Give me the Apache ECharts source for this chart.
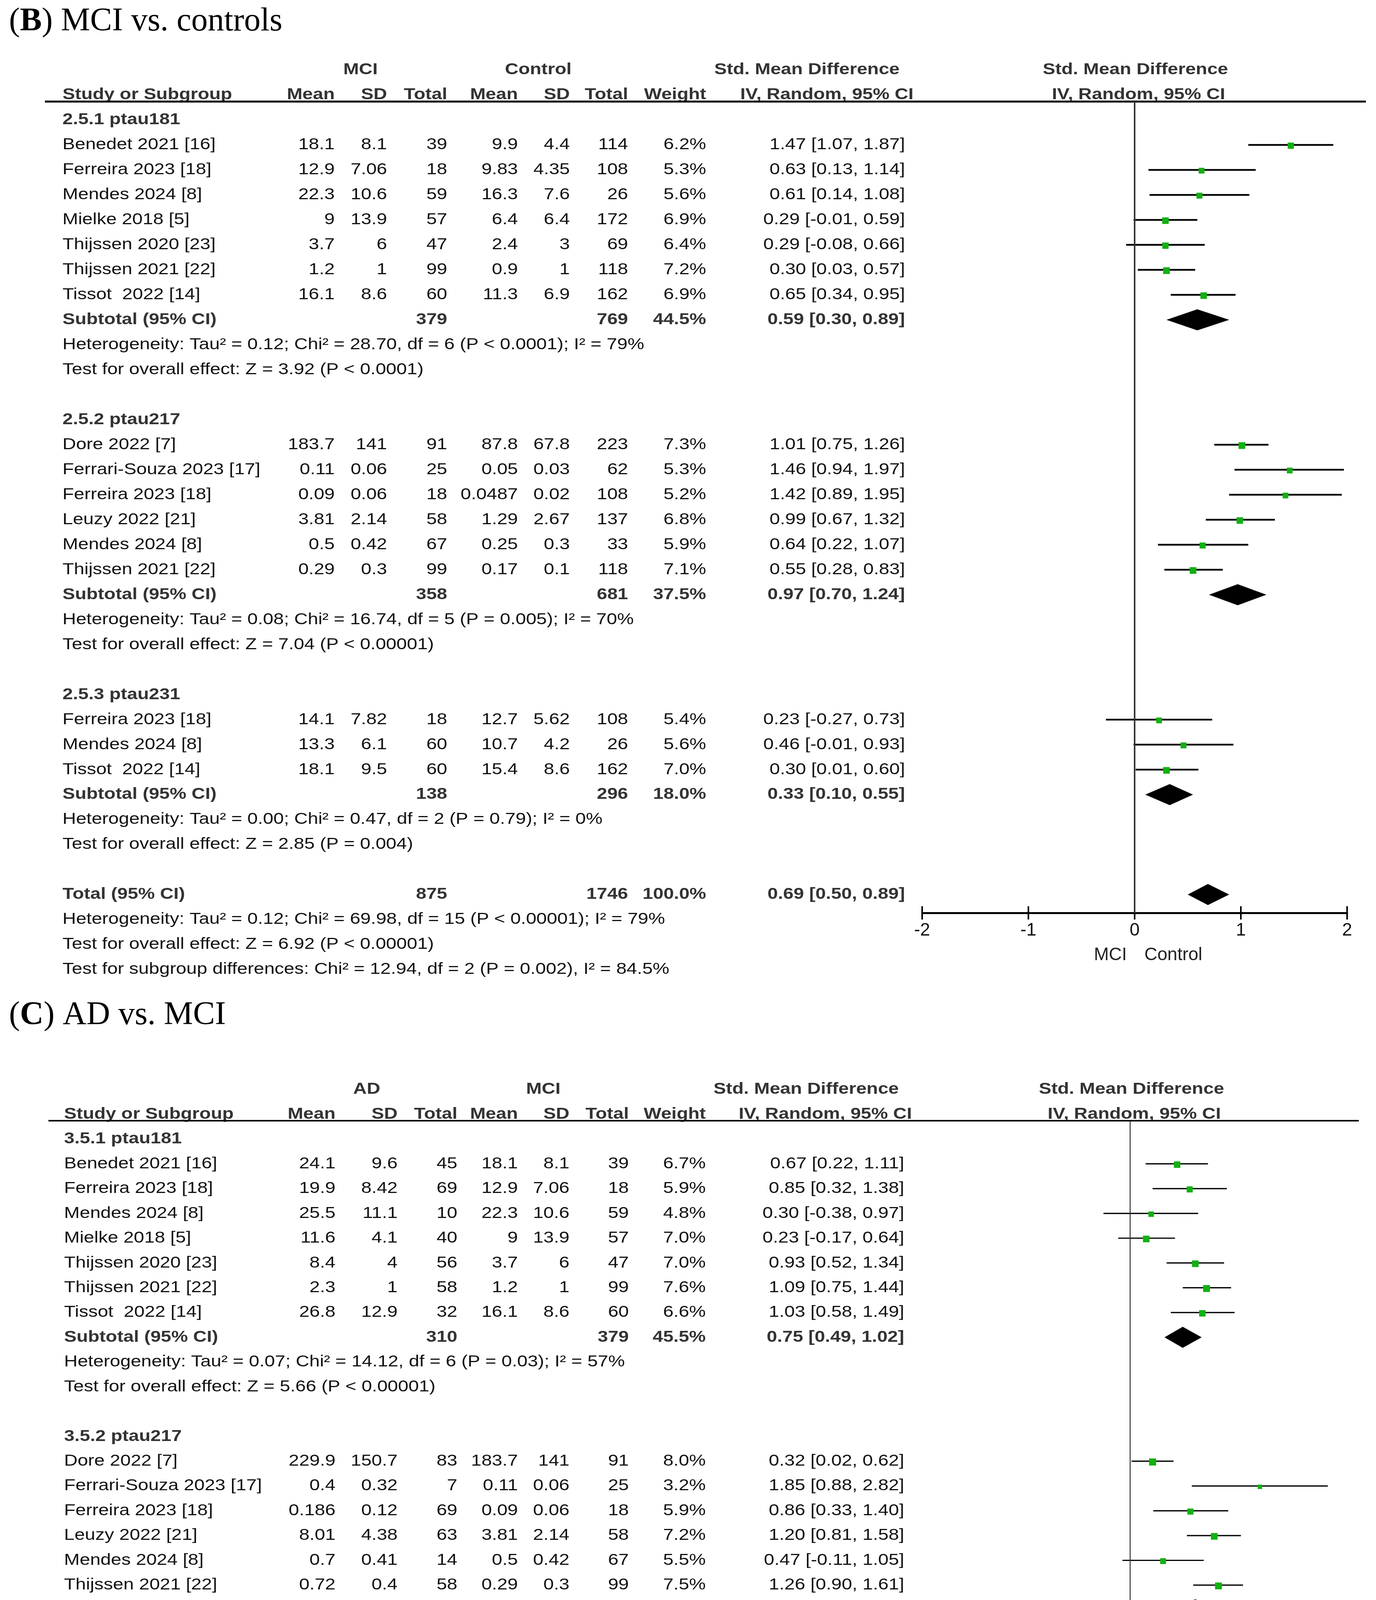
<!DOCTYPE html>
<html><head><meta charset="utf-8">
<script src="https://cdn.jsdelivr.net/npm/echarts@6/dist/echarts.min.js"></script>
<style>html,body{margin:0;padding:0;background:#fff}#c{width:3523px;height:5115px}</style>
</head><body><div id="c"></div>
<script>
// ================= DATA: panel B (MCI vs. controls) =================
const bGroups = ['2.5.1 ptau181', '2.5.2 ptau217', '2.5.3 ptau231'];
const bGroupSizes = [7, 6, 3];
const bStudy = ['Benedet 2021 [16]', 'Ferreira 2023 [18]', 'Mendes 2024 [8]', 'Mielke 2018 [5]', 'Thijssen 2020 [23]', 'Thijssen 2021 [22]', 'Tissot  2022 [14]',
  'Dore 2022 [7]', 'Ferrari-Souza 2023 [17]', 'Ferreira 2023 [18]', 'Leuzy 2022 [21]', 'Mendes 2024 [8]', 'Thijssen 2021 [22]',
  'Ferreira 2023 [18]', 'Mendes 2024 [8]', 'Tissot  2022 [14]'];
const bMean1 = [18.1, 12.9, 22.3, 9, 3.7, 1.2, 16.1, 183.7, 0.11, 0.09, 3.81, 0.5, 0.29, 14.1, 13.3, 18.1];
const bSD1 = [8.1, 7.06, 10.6, 13.9, 6, 1, 8.6, 141, 0.06, 0.06, 2.14, 0.42, 0.3, 7.82, 6.1, 9.5];
const bN1 = [39, 18, 59, 57, 47, 99, 60, 91, 25, 18, 58, 67, 99, 18, 60, 60];
const bMean2 = [9.9, 9.83, 16.3, 6.4, 2.4, 0.9, 11.3, 87.8, 0.05, 0.0487, 1.29, 0.25, 0.17, 12.7, 10.7, 15.4];
const bSD2 = [4.4, 4.35, 7.6, 6.4, 3, 1, 6.9, 67.8, 0.03, 0.02, 2.67, 0.3, 0.1, 5.62, 4.2, 8.6];
const bN2 = [114, 108, 26, 172, 69, 118, 162, 223, 62, 108, 137, 33, 118, 108, 26, 162];
const bWeight = [6.2, 5.3, 5.6, 6.9, 6.4, 7.2, 6.9, 7.3, 5.3, 5.2, 6.8, 5.9, 7.1, 5.4, 5.6, 7.0];
const bSMD = [1.47, 0.63, 0.61, 0.29, 0.29, 0.30, 0.65, 1.01, 1.46, 1.42, 0.99, 0.64, 0.55, 0.23, 0.46, 0.30];
const bLow = [1.07, 0.13, 0.14, -0.01, -0.08, 0.03, 0.34, 0.75, 0.94, 0.89, 0.67, 0.22, 0.28, -0.27, -0.01, 0.01];
const bHigh = [1.87, 1.14, 1.08, 0.59, 0.66, 0.57, 0.95, 1.26, 1.97, 1.95, 1.32, 1.07, 0.83, 0.73, 0.93, 0.60];
const bSubN1 = [379, 358, 138];
const bSubN2 = [769, 681, 296];
const bSubWeight = [44.5, 37.5, 18.0];
const bSubSMD = [0.59, 0.97, 0.33];
const bSubLow = [0.30, 0.70, 0.10];
const bSubHigh = [0.89, 1.24, 0.55];
const bHet = ['Heterogeneity: Tau\u00b2 = 0.12; Chi\u00b2 = 28.70, df = 6 (P < 0.0001); I\u00b2 = 79%',
  'Heterogeneity: Tau\u00b2 = 0.08; Chi\u00b2 = 16.74, df = 5 (P = 0.005); I\u00b2 = 70%',
  'Heterogeneity: Tau\u00b2 = 0.00; Chi\u00b2 = 0.47, df = 2 (P = 0.79); I\u00b2 = 0%'];
const bTest = ['Test for overall effect: Z = 3.92 (P < 0.0001)',
  'Test for overall effect: Z = 7.04 (P < 0.00001)',
  'Test for overall effect: Z = 2.85 (P = 0.004)'];
const bTotalN = [875, 1746];
const bTotalWeight = 100.0;
const bTotalCI = [0.69, 0.50, 0.89];
const bTotalNotes = ['Heterogeneity: Tau\u00b2 = 0.12; Chi\u00b2 = 69.98, df = 15 (P < 0.00001); I\u00b2 = 79%',
  'Test for overall effect: Z = 6.92 (P < 0.00001)',
  'Test for subgroup differences: Chi\u00b2 = 12.94, df = 2 (P = 0.002), I\u00b2 = 84.5%'];
const bArms = ['MCI', 'Control'];
const bTicks = [-2, -1, 0, 1, 2];

// ================= DATA: panel C (AD vs. MCI) =================
const cGroups = ['3.5.1 ptau181', '3.5.2 ptau217', '3.5.3 ptau231'];
const cGroupSizes = [7, 6, 3];
const cStudy = ['Benedet 2021 [16]', 'Ferreira 2023 [18]', 'Mendes 2024 [8]', 'Mielke 2018 [5]', 'Thijssen 2020 [23]', 'Thijssen 2021 [22]', 'Tissot  2022 [14]',
  'Dore 2022 [7]', 'Ferrari-Souza 2023 [17]', 'Ferreira 2023 [18]', 'Leuzy 2022 [21]', 'Mendes 2024 [8]', 'Thijssen 2021 [22]',
  'Ferreira 2023 [18]', 'Mendes 2024 [8]', 'Tissot  2022 [14]'];
const cMean1 = [24.1, 19.9, 25.5, 11.6, 8.4, 2.3, 26.8, 229.9, 0.4, 0.186, 8.01, 0.7, 0.72, 23.3, 12.2, 27.6];
const cSD1 = [9.6, 8.42, 11.1, 4.1, 4, 1, 12.9, 150.7, 0.32, 0.12, 4.38, 0.41, 0.4, 10.1, 5.2, 11];
const cN1 = [45, 69, 10, 40, 56, 58, 32, 83, 7, 69, 63, 14, 58, 69, 10, 32];
const cMean2 = [18.1, 12.9, 22.3, 9, 3.7, 1.2, 16.1, 183.7, 0.11, 0.09, 3.81, 0.5, 0.29, 14.1, 13.3, 18.1];
const cSD2 = [8.1, 7.06, 10.6, 13.9, 6, 1, 8.6, 141, 0.06, 0.06, 2.14, 0.42, 0.3, 7.82, 6.1, 9.5];
const cN2 = [39, 18, 59, 57, 47, 99, 60, 91, 25, 18, 58, 67, 99, 18, 60, 60];
const cWeight = [6.7, 5.9, 4.8, 7.0, 7.0, 7.6, 6.6, 8.0, 3.2, 5.9, 7.2, 5.5, 7.5, 5.9, 4.8, 6.6];
const cSMD = [0.67, 0.85, 0.30, 0.23, 0.93, 1.09, 1.03, 0.32, 1.85, 0.86, 1.20, 0.47, 1.26, 0.94, -0.18, 0.94];
const cLow = [0.22, 0.32, -0.38, -0.17, 0.52, 0.75, 0.58, 0.02, 0.88, 0.33, 0.81, -0.11, 0.90, 0.40, -0.85, 0.49];
const cHigh = [1.11, 1.38, 0.97, 0.64, 1.34, 1.44, 1.49, 0.62, 2.82, 1.40, 1.58, 1.05, 1.61, 1.48, 0.49, 1.39];
const cSubN1 = [310, 294, 111];
const cSubN2 = [379, 358, 138];
const cSubWeight = [45.5, 37.2, 17.3];
const cSubSMD = [0.75, 0.93, 0.60];
const cSubLow = [0.49, 0.51, -0.05];
const cSubHigh = [1.02, 1.36, 1.25];
const cHet = ['Heterogeneity: Tau\u00b2 = 0.07; Chi\u00b2 = 14.12, df = 6 (P = 0.03); I\u00b2 = 57%',
  'Heterogeneity: Tau\u00b2 = 0.21; Chi\u00b2 = 26.09, df = 5 (P < 0.0001); I\u00b2 = 81%',
  'Heterogeneity: Tau\u00b2 = 0.25; Chi\u00b2 = 8.49, df = 2 (P = 0.01); I\u00b2 = 76%'];
const cTest = ['Test for overall effect: Z = 5.66 (P < 0.00001)',
  'Test for overall effect: Z = 4.29 (P < 0.0001)',
  'Test for overall effect: Z = 1.82 (P = 0.07)'];
const cTotalN = [715, 875];
const cTotalWeight = 100.0;
const cTotalCI = [0.79, 0.58, 1.00];
const cTotalNotes = ['Heterogeneity: Tau\u00b2 = 0.12; Chi\u00b2 = 49.30, df = 15 (P < 0.0001); I\u00b2 = 70%',
  'Test for overall effect: Z = 7.36 (P < 0.00001)',
  'Test for subgroup differences: Chi\u00b2 = 0.81, df = 2 (P = 0.67), I\u00b2 = 0%'];
const cArms = ['AD', 'MCI'];
const cTicks = [-2, -1, 0, 1, 2];

// ================= assemble =================
const D_B = {groups: bGroups, sizes: bGroupSizes, study: bStudy, m1: bMean1, s1: bSD1, n1: bN1, m2: bMean2, s2: bSD2, n2: bN2,
  w: bWeight, smd: bSMD, lo: bLow, hi: bHigh, subN1: bSubN1, subN2: bSubN2, subW: bSubWeight, subSMD: bSubSMD, subLo: bSubLow, subHi: bSubHigh,
  het: bHet, test: bTest, totN: bTotalN, totW: bTotalWeight, totCI: bTotalCI, totNotes: bTotalNotes, arms: bArms, ticks: bTicks};
const D_C = {groups: cGroups, sizes: cGroupSizes, study: cStudy, m1: cMean1, s1: cSD1, n1: cN1, m2: cMean2, s2: cSD2, n2: cN2,
  w: cWeight, smd: cSMD, lo: cLow, hi: cHigh, subN1: cSubN1, subN2: cSubN2, subW: cSubWeight, subSMD: cSubSMD, subLo: cSubLow, subHi: cSubHigh,
  het: cHet, test: cTest, totN: cTotalN, totW: cTotalWeight, totCI: cTotalCI, totNotes: cTotalNotes, arms: cArms, ticks: cTicks};

// layout (pixels)
const L_B = {yMin: -0.7347, yMax: 31.734, grid: {left: 2361, right: 74, top: 260, height: 2077}, xMin: -2, xMax: 2,
  study: 160, m1: 857, s1: 991, n1: 1145, m2: 1326, s2: 1459, n2: 1608, w: 1808, ci: 2317,
  arm1: 923, arm2: 1378, smdHead: 2066, ivHead: 2117, rSmdHead: 2907, rIvHead: 2915,
  ruleL: 115, ruleR: 3497, ruleW: 5, axisLineW: 5, tickLen: 17, tickW: 4, labelMargin: 22, zeroW: 4, ciW: 4.5,
  nameRow: 33.42, nameL: 20, nameR: 25};
const L_C = {yMin: -0.7409, yMax: 31.778, grid: {left: 2355, right: 91, top: 2869, height: 2063}, xMin: -3, xMax: 3,
  study: 164, m1: 859, s1: 1018, n1: 1171, m2: 1326, s2: 1458, n2: 1610, w: 1807, ci: 2315,
  arm1: 939, arm2: 1391, smdHead: 2064, ivHead: 2113, rSmdHead: 2897, rIvHead: 2904,
  ruleL: 124, ruleR: 3479, ruleW: 4, axisLineW: 3.5, tickLen: 16, tickW: 3, labelMargin: 20, zeroW: 2.5, ciW: 3.2,
  nameRow: 33.53, nameL: 21, nameR: 22};

const FONT = '"Liberation Sans", Arial, Helvetica, sans-serif';
const SERIF = '"Liberation Serif", "Times New Roman", serif';
const FS = 41, SX = 1.17;
const GREEN = '#12b012';

const f2 = v => v.toFixed(2);
const ciText = (s, l, h) => f2(s) + ' [' + f2(l) + ', ' + f2(h) + ']';
const pct = v => v.toFixed(1) + '%';

function T(x, y, text, o) {
  o = o || {};
  return {type: 'text', x: x, y: y, scaleX: o.sx != null ? o.sx : SX,
    style: {text: text, fontSize: o.fs || FS, fontFamily: FONT, fontWeight: o.bold ? 'bold' : 'normal',
      fill: o.fill || (o.bold ? '#333' : '#111'), align: o.align || 'left', verticalAlign: 'middle'}};
}

function buildRows(D, L) {
  const rows = [{row: -2, kind: 'head1'}, {row: -1, kind: 'head2'}, {row: L.yMin, kind: 'rule'}];
  let r = 0, k = 0;
  D.groups.forEach((g, gi) => {
    rows.push({row: r++, kind: 'group', text: g});
    for (let j = 0; j < D.sizes[gi]; j++, k++) rows.push({row: r++, kind: 'study', i: k});
    rows.push({row: r++, kind: 'sub', gi: gi});
    rows.push({row: r++, kind: 'note', text: D.het[gi]});
    rows.push({row: r++, kind: 'note', text: D.test[gi]});
    r++;
  });
  rows.push({row: r++, kind: 'total'});
  D.totNotes.forEach(t => rows.push({row: r++, kind: 'note', text: t}));
  rows.push({row: L.nameRow, kind: 'axisname'});
  return rows;
}

function rowElems(r, y, D, L, api) {
  const B = {bold: true};
  const BR = {bold: true, align: 'right'};
  const BC = {bold: true, align: 'center'};
  const R = {align: 'right'};
  switch (r.kind) {
    case 'head1': return [T(L.arm1, y, D.arms[0], BC), T(L.arm2, y, D.arms[1], BC),
      T(L.smdHead, y, 'Std. Mean Difference', BC), T(L.rSmdHead, y, 'Std. Mean Difference', BC)];
    case 'head2': return [T(L.study, y, 'Study or Subgroup', B), T(L.m1, y, 'Mean', BR), T(L.s1, y, 'SD', BR), T(L.n1, y, 'Total', BR),
      T(L.m2, y, 'Mean', BR), T(L.s2, y, 'SD', BR), T(L.n2, y, 'Total', BR), T(L.w, y, 'Weight', BR),
      T(L.ivHead, y, 'IV, Random, 95% CI', BC), T(L.rIvHead, y, 'IV, Random, 95% CI', BC)];
    case 'rule': return [{type: 'line', shape: {x1: L.ruleL, y1: y, x2: L.ruleR, y2: y}, style: {stroke: '#000', lineWidth: L.ruleW}}];
    case 'group': return [T(L.study, y, r.text, B)];
    case 'study': {
      const i = r.i;
      return [T(L.study, y, D.study[i]), T(L.m1, y, String(D.m1[i]), R), T(L.s1, y, String(D.s1[i]), R), T(L.n1, y, String(D.n1[i]), R),
        T(L.m2, y, String(D.m2[i]), R), T(L.s2, y, String(D.s2[i]), R), T(L.n2, y, String(D.n2[i]), R),
        T(L.w, y, pct(D.w[i]), R), T(L.ci, y, ciText(D.smd[i], D.lo[i], D.hi[i]), R)];
    }
    case 'sub': {
      const g = r.gi;
      return [T(L.study, y, 'Subtotal (95% CI)', B), T(L.n1, y, String(D.subN1[g]), BR), T(L.n2, y, String(D.subN2[g]), BR),
        T(L.w, y, pct(D.subW[g]), BR), T(L.ci, y, ciText(D.subSMD[g], D.subLo[g], D.subHi[g]), BR)];
    }
    case 'total': return [T(L.study, y, 'Total (95% CI)', B), T(L.n1, y, String(D.totN[0]), BR), T(L.n2, y, String(D.totN[1]), BR),
      T(L.w, y, pct(D.totW), BR), T(L.ci, y, ciText(D.totCI[0], D.totCI[1], D.totCI[2]), BR)];
    case 'note': return [T(L.study, y, r.text)];
    case 'axisname': {
      const zx = api.coord([0, r.row])[0];
      return [T(zx - L.nameL, y, D.arms[0], {align: 'right', sx: 1, fs: 46, fill: '#222'}),
        T(zx + L.nameR, y, D.arms[1], {align: 'left', sx: 1, fs: 46, fill: '#222'})];
    }
  }
  return [];
}

function panelSeries(D, L, gi) {
  const rows = buildRows(D, L);
  const xi = gi * 2;
  const studyData = D.study.map((s, i) => [D.lo[i], D.hi[i], rows.find(r => r.kind === 'study' && r.i === i).row, D.smd[i], D.w[i]]);
  const diaData = D.groups.map((g, j) => [D.subLo[j], D.subHi[j], rows.find(r => r.kind === 'sub' && r.gi === j).row, D.subSMD[j]]);
  diaData.push([D.totCI[1], D.totCI[2], rows.find(r => r.kind === 'total').row, D.totCI[0]]);
  return [
    {type: 'custom', name: 'table' + gi, xAxisIndex: xi, yAxisIndex: gi, clip: false, silent: true, z: 3,
      data: rows.map(r => [0, r.row]),
      renderItem: function (params, api) {
        const r = rows[params.dataIndex];
        const y = api.coord([0, api.value(1)])[1];
        return {type: 'group', children: rowElems(r, y, D, L, api)};
      }},
    {type: 'custom', name: 'studies' + gi, xAxisIndex: xi, yAxisIndex: gi, clip: false, silent: true, z: 4,
      encode: {x: [0, 1, 3], y: 2}, data: studyData,
      renderItem: function (params, api) {
        const a = api.coord([api.value(0), api.value(2)]);
        const b = api.coord([api.value(1), api.value(2)]);
        const c = api.coord([api.value(3), api.value(2)]);
        const s = 6.4 * Math.sqrt(api.value(4));
        return {type: 'group', children: [
          {type: 'line', shape: {x1: a[0], y1: a[1], x2: b[0], y2: b[1]}, style: {stroke: '#000', lineWidth: L.ciW}},
          {type: 'rect', shape: {x: c[0] - s / 2, y: c[1] - s / 2 + 2, width: s, height: s}, style: {fill: GREEN}}
        ]};
      },
      markLine: {silent: true, symbol: ['none', 'none'], label: {show: false}, animation: false,
        lineStyle: {color: '#333', width: L.zeroW, type: 'solid'}, data: [{xAxis: 0}]}},
    {type: 'custom', name: 'pooled' + gi, xAxisIndex: xi, yAxisIndex: gi, clip: false, silent: true, z: 4,
      encode: {x: [0, 1, 3], y: 2}, data: diaData,
      renderItem: function (params, api) {
        const a = api.coord([api.value(0), api.value(2)]);
        const b = api.coord([api.value(1), api.value(2)]);
        const c = api.coord([api.value(3), api.value(2)]);
        const h = 27;
        return {type: 'polygon', shape: {points: [[a[0], a[1]], [c[0], c[1] - h], [b[0], b[1]], [c[0], c[1] + h]]}, style: {fill: '#000'}};
      }}
  ];
}

function mkAxis(gi, L, D, inner) {
  return {gridIndex: gi, type: 'value', position: 'bottom', min: L.xMin, max: L.xMax, interval: 1,
    axisLine: {show: !inner, onZero: false, lineStyle: {color: '#000', width: L.axisLineW}},
    axisTick: {show: true, inside: inner, length: L.tickLen, customValues: D.ticks, lineStyle: {color: '#000', width: L.tickW}},
    axisLabel: {show: !inner, customValues: D.ticks, margin: L.labelMargin, fontSize: 46, fontFamily: FONT, color: '#111'},
    splitLine: {show: false}};
}

const option = {
  animation: false,
  backgroundColor: '#ffffff',
  grid: [L_B.grid, L_C.grid],
  xAxis: [mkAxis(0, L_B, D_B, false), mkAxis(0, L_B, D_B, true), mkAxis(1, L_C, D_C, false), mkAxis(1, L_C, D_C, true)],
  yAxis: [
    {gridIndex: 0, type: 'value', inverse: true, min: L_B.yMin, max: L_B.yMax, show: false},
    {gridIndex: 1, type: 'value', inverse: true, min: L_C.yMin, max: L_C.yMax, show: false}
  ],
  graphic: [
    {type: 'text', x: 23, y: 56, style: {text: '({b|B}) MCI vs. controls', fontSize: 84, fontFamily: SERIF, fill: '#000', verticalAlign: 'middle',
      rich: {b: {fontSize: 84, fontFamily: SERIF, fontWeight: 'bold', fill: '#000'}}}},
    {type: 'text', x: 23, y: 2600, style: {text: '({b|C}) AD vs. MCI', fontSize: 84, fontFamily: SERIF, fill: '#000', verticalAlign: 'middle',
      rich: {b: {fontSize: 84, fontFamily: SERIF, fontWeight: 'bold', fill: '#000'}}}}
  ],
  series: panelSeries(D_B, L_B, 0).concat(panelSeries(D_C, L_C, 1))
};

const chart = echarts.init(document.getElementById('c'), null, {renderer: 'canvas', width: 3523, height: 5115});
chart.setOption(option);
</script></body></html>
